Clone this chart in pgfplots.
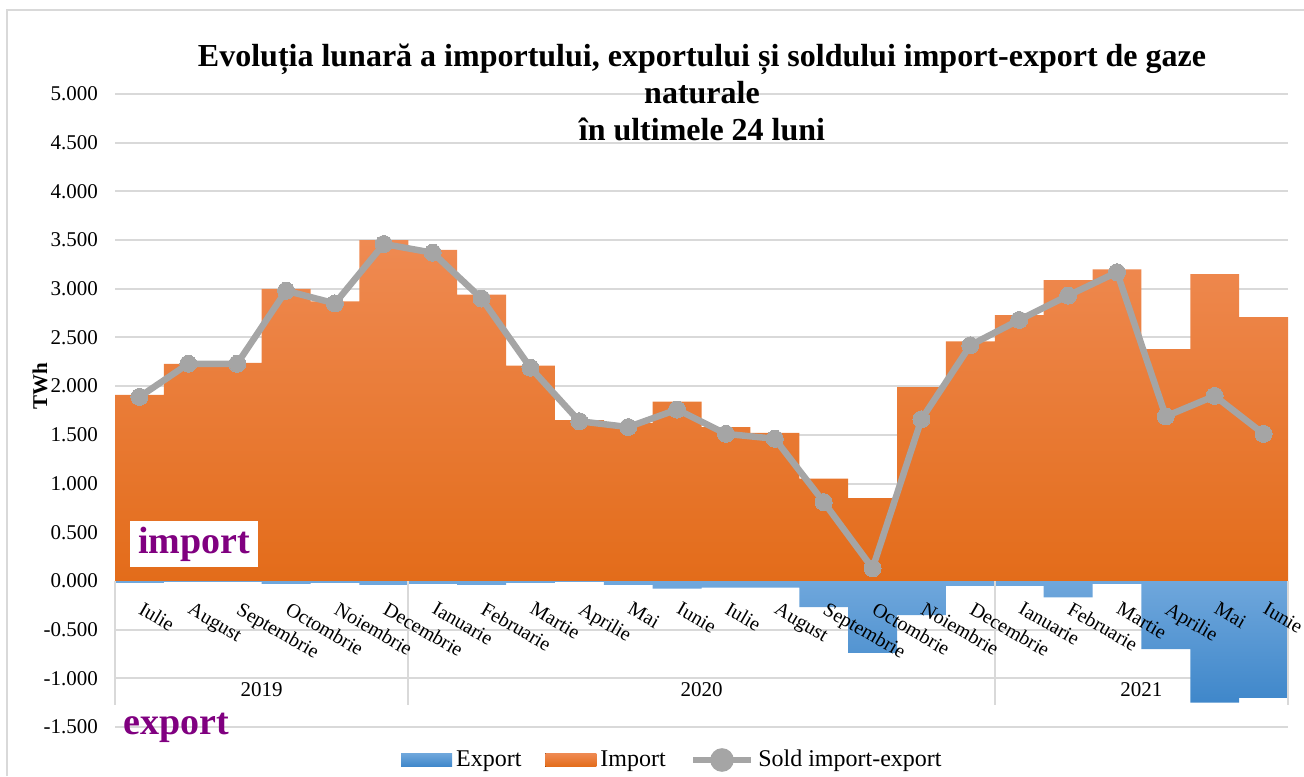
\documentclass[border=0pt]{standalone}
\usepackage{fontspec}
\setmainfont{Liberation Serif}
\usepackage{pgfplots}
\usepackage{pgfplotstable}
\pgfplotsset{compat=1.18}

\definecolor{gridgray}{RGB}{217,217,217}
\definecolor{linegray}{RGB}{165,165,165}
\definecolor{orTop}{RGB}{239,138,82}
\definecolor{orMid}{RGB}{244,125,45}
\definecolor{orBot}{RGB}{227,108,26}
\definecolor{blTop}{RGB}{111,167,220}
\definecolor{blBot}{RGB}{63,135,202}
\definecolor{purp}{RGB}{128,0,128}

% luna  import  export  sold
\pgfplotstableread{
idx imp   exp    sold
0   1.91  -0.02  1.89
1   2.23  -0.01  2.23
2   2.24  -0.01  2.23
3   3.00  -0.03  2.98
4   2.87  -0.02  2.85
5   3.50  -0.04  3.46
6   3.40  -0.03  3.37
7   2.94  -0.04  2.90
8   2.21  -0.02  2.19
9   1.65  -0.01  1.64
10  1.62  -0.04  1.58
11  1.84  -0.08  1.76
12  1.58  -0.07  1.51
13  1.52  -0.07  1.46
14  1.05  -0.27  0.81
15  0.85  -0.74  0.13
16  1.99  -0.35  1.66
17  2.46  -0.05  2.42
18  2.73  -0.05  2.68
19  3.09  -0.17  2.93
20  3.20  -0.03  3.17
21  2.38  -0.70  1.69
22  3.15  -1.25  1.90
23  2.71  -1.20  1.51
}\gaze

\pgfplotsset{baza/.style={
  at={(57.5pt,24.5pt)}, anchor=south west,
  scale only axis, width=586.5pt, height=316.5pt,
  xmin=-0.5, xmax=23.5, ymin=-1.5, ymax=5,
  major tick length=0pt,
  xtick={0,...,23},
}}

\begin{document}
\begin{tikzpicture}
\useasboundingbox (0,0) rectangle (652pt,388pt);
\draw[gridgray, line width=1pt] (3.5pt,0) -- (3.5pt,383pt) -- (652pt,383pt);

\begin{axis}[
  baza,
  clip=false,
  axis x line=middle, axis y line=left,
  x axis line style={-, draw=gridgray, line width=1pt},
  y axis line style={draw=none},
  ymajorgrids, grid style={gridgray, line width=1pt},
  ytick={-1.5,-1,-0.5,0,0.5,1,1.5,2,2.5,3,3.5,4,4.5,5},
  yticklabel style={font=\fontsize{10.5}{12}\selectfont, xshift=-5pt,
    /pgf/number format/.cd, fixed, fixed zerofill, precision=3, 1000 sep={}, assume math mode=true},
  xticklabels={},
  legend columns=-1,
  legend style={at={(rel axis cs:0.476,0)}, anchor=center, yshift=-16.5pt,
    draw=none, fill=none, font=\fontsize{12}{14}\selectfont,
    /tikz/every odd column/.append style={column sep=0pt},
    /tikz/every even column/.append style={column sep=10pt}},
]
\addplot[ybar, bar width=1, bar shift=0pt, draw=none, top color=blTop, bottom color=blBot,
  legend image code/.code={\fill[top color=blTop, bottom color=blBot] (0pt,-3.3pt) rectangle (25.5pt,3.3pt);}]
  table[x=idx, y=exp] {\gaze};
\addplot[ybar, bar width=1, bar shift=0pt, draw=none, top color=orTop, middle color=orMid, bottom color=orBot,
  legend image code/.code={\fill[top color=orTop, bottom color=orBot] (0pt,-3.3pt) rectangle (25.5pt,3.3pt);}]
  table[x=idx, y=imp] {\gaze};
\addplot[linegray, line width=3.25pt, mark=*, mark size=4.25pt, mark options={fill=linegray, draw=linegray, line width=0pt},
  legend image code/.code={\draw[linegray, line width=3.25pt] (0pt,0pt) -- (29pt,0pt);
    \fill[linegray] (14.5pt,0pt) circle (4.25pt);}]
  table[x=idx, y=sold] {\gaze};
\legend{Export,Import,Sold import-export}

% separatoare ani
\draw[gridgray, line width=1pt] (axis cs:-0.5,0) -- (axis cs:-0.5,-1.27);
\draw[gridgray, line width=1pt] (axis cs:5.5,0) -- (axis cs:5.5,-1.27);
\draw[gridgray, line width=1pt] (axis cs:17.5,0) -- (axis cs:17.5,-1.27);
\draw[gridgray, line width=1pt] (axis cs:23.5,0) -- (axis cs:23.5,-1.27);
\node[font=\fontsize{10.5}{12}\selectfont] at (axis cs:2.5,-1.12) {2019};
\node[font=\fontsize{10.5}{12}\selectfont] at (axis cs:11.5,-1.12) {2020};
\node[font=\fontsize{10.5}{12}\selectfont] at (axis cs:20.5,-1.12) {2021};

\node[fill=white, inner xsep=4pt, inner ysep=3pt, text=purp, font=\fontsize{19}{22}\selectfont\bfseries]
  at (axis cs:1.12,0.38) {import};
\node[inner sep=1pt, text=purp, font=\fontsize{19}{22}\selectfont\bfseries]
  at (axis cs:0.75,-1.51) {export};
\end{axis}

% a doua axa: doar etichetele lunilor, peste bare
\begin{axis}[
  baza,
  axis x line=middle, axis y line=none,
  x axis line style={draw=none},
  xticklabels={Iulie,August,Septembrie,Octombrie,Noiembrie,Decembrie,Ianuarie,Februarie,Martie,Aprilie,Mai,Iunie,Iulie,August,Septembrie,Octombrie,Noiembrie,Decembrie,Ianuarie,Februarie,Martie,Aprilie,Mai,Iunie},
  xticklabel style={xshift=2.5pt, yshift=-10pt, rotate=-30, anchor=north west, inner sep=0pt,
    font=\fontsize{10}{12}\selectfont},
]
\end{axis}

\node[anchor=north, inner sep=0pt, align=center, font=\fontsize{16}{18.3}\selectfont\bfseries]
  at (351pt,366pt) {Evoluția lunară a importului, exportului și soldului import-export de gaze\\naturale\\în ultimele 24 luni};
\node[rotate=90, font=\fontsize{10.5}{12}\selectfont\bfseries] at (20pt,195pt) {TWh};
\end{tikzpicture}
\end{document}
